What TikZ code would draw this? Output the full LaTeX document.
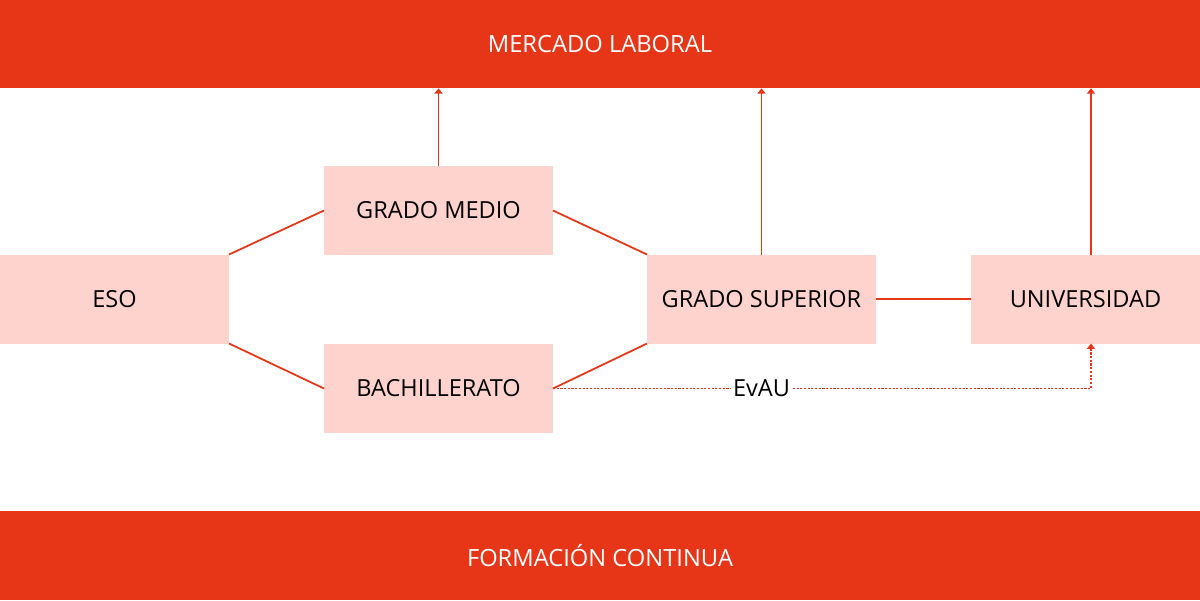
\documentclass[tikz,border=0pt]{standalone}
\usepackage{fontspec}
\setmainfont{Open Sans}
\usepackage{xcolor}
\usetikzlibrary{arrows.meta}

\definecolor{rojo}{RGB}{230,53,23}
\definecolor{rosa}{RGB}{255,211,205}

\begin{document}
\begin{tikzpicture}[
    bar/.style={fill=rojo, text=white, minimum width=24cm, minimum height=1.77cm, inner sep=0pt, outer sep=0pt, font=\fontsize{13.5}{16}\selectfont},
    etapa/.style={fill=rosa, minimum width=4.58cm, minimum height=1.78cm, inner sep=0pt, outer sep=0pt, font=\fontsize{13.4}{16}\selectfont},
    enlace/.style={draw=rojo, line width=1pt},
    salida/.style={enlace, -{Triangle[width=4.5pt,length=3pt]}},
    acceso/.style={draw=rojo, line width=1.1pt, dash pattern=on 1.2pt off 0.9pt, -{Triangle[width=4.5pt,length=3pt]}}
]
\useasboundingbox (0,0) rectangle (24,-12);

\node[bar] (laboral) at (12,-0.88) {MERCADO LABORAL};
\node[bar] (formacion) at (12,-11.11) {FORMACIÓN CONTINUA};

\node[etapa] (eso) at (2.29,-5.98) {ESO};
\node[etapa] (medio) at (8.77,-4.21) {GRADO MEDIO};
\node[etapa] (bach) at (8.77,-7.77) {BACHILLERATO};
\node[etapa] (superior) at (15.23,-5.98) {GRADO SUPERIOR};
\node[etapa] (univ) at (21.71,-5.98) {UNIVERSIDAD};

\draw[enlace] (eso.north east) -- (medio.west);
\draw[enlace] (eso.south east) -- (bach.west);
\draw[enlace] (medio.east) -- (superior.north west);
\draw[enlace] (bach.east) -- (superior.south west);
\draw[enlace] (superior.east) -- (univ.west);

% salidas al mercado laboral
\draw[salida] (medio.north) -- (medio.north |- laboral.south);
\draw[salida] (superior.north) -- (superior.north |- laboral.south);
\coordinate (univ top) at ([xshift=0.11cm]univ.north);
\coordinate (univ bot) at ([xshift=0.11cm]univ.south);
\draw[salida] (univ top) -- (univ top |- laboral.south);

% acceso por EvAU
\draw[acceso] (bach.east) -- (univ bot |- bach.east) -- (univ bot);
\node[fill=white, inner sep=1pt, font=\fontsize{13.4}{16}\selectfont] (evau) at (superior.south |- bach.east) {EvAU};
\end{tikzpicture}
\end{document}
